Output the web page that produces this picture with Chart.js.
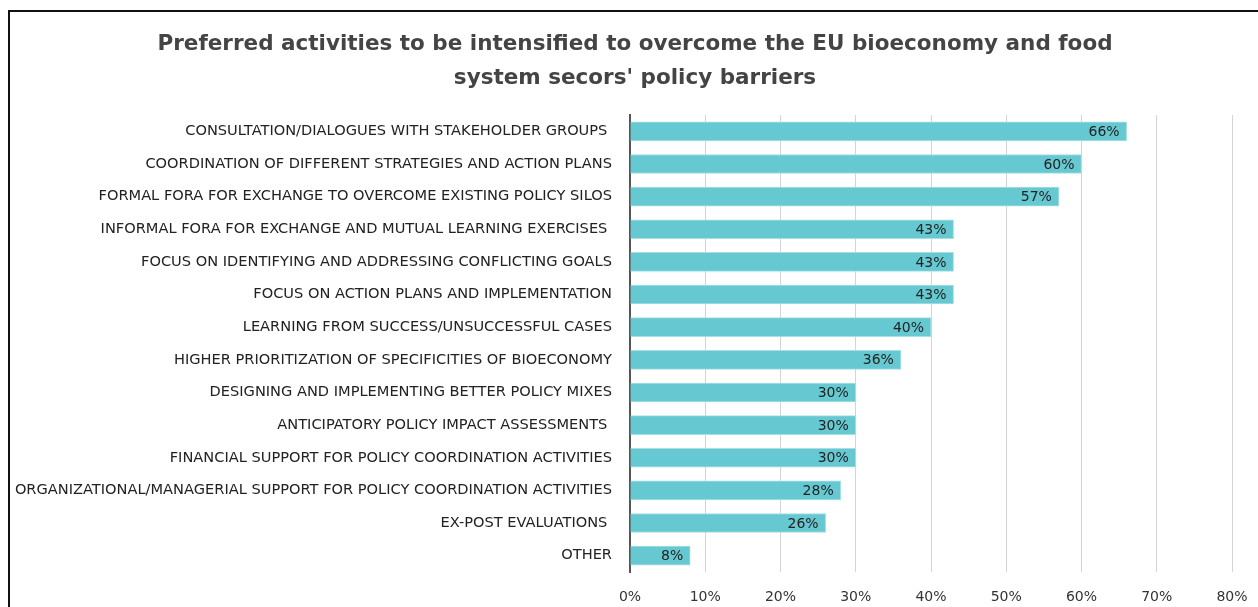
<!DOCTYPE html>
<html>
<head>
<meta charset="utf-8">
<script src="https://cdn.jsdelivr.net/npm/chart.js@4"></script>
<style>
  html, body { margin: 0; padding: 0; background: #fff; overflow: hidden; }
  #wrap { position: relative; width: 1258px; height: 607px; }
  #frame { position: absolute; left: 8px; top: 10px; width: 1300px; height: 700px;
           border-left: 2px solid #111; border-top: 2px solid #111; pointer-events: none; }
</style>
</head>
<body>
<div id="wrap">
  <canvas id="chart" width="1258" height="607"></canvas>
  <div id="frame"></div>
</div>
<script>
// values
const titleLines = [
    "Preferred activities to be intensified to overcome the EU bioeconomy and food",
    "system secors' policy barriers"
];
const categories = [
    "CONSULTATION/DIALOGUES WITH STAKEHOLDER GROUPS ",
    "COORDINATION OF DIFFERENT STRATEGIES AND ACTION PLANS",
    "FORMAL FORA FOR EXCHANGE TO OVERCOME EXISTING POLICY SILOS",
    "INFORMAL FORA FOR EXCHANGE AND MUTUAL LEARNING EXERCISES ",
    "FOCUS ON IDENTIFYING AND ADDRESSING CONFLICTING GOALS",
    "FOCUS ON ACTION PLANS AND IMPLEMENTATION",
    "LEARNING FROM SUCCESS/UNSUCCESSFUL CASES",
    "HIGHER PRIORITIZATION OF SPECIFICITIES OF BIOECONOMY",
    "DESIGNING AND IMPLEMENTING BETTER POLICY MIXES",
    "ANTICIPATORY POLICY IMPACT ASSESSMENTS ",
    "FINANCIAL SUPPORT FOR POLICY COORDINATION ACTIVITIES",
    "ORGANIZATIONAL/MANAGERIAL SUPPORT FOR POLICY COORDINATION ACTIVITIES",
    "EX-POST EVALUATIONS ",
    "OTHER"
];
const shares = [66, 60, 57, 43, 43, 43, 40, 36, 30, 30, 30, 28, 26, 8];
const xTicks = [0, 10, 20, 30, 40, 50, 60, 70, 80];

const FONT = "'DejaVu Sans', sans-serif";

// two-line title, centred on the framed area
const titleDraw = {
    id: 'titleDraw',
    afterDraw(chart) {
        const ctx = chart.ctx;
        ctx.save();
        ctx.font = 'bold 21.5px ' + FONT;
        ctx.fillStyle = '#444';
        ctx.textAlign = 'center';
        ctx.textBaseline = 'middle';
        titleLines.forEach((t, i) => ctx.fillText(t, 635, 44 + i * 34));
        ctx.restore();
    }
};

// value label just inside the end of each bar
const barLabels = {
    id: 'barLabels',
    afterDatasetsDraw(chart) {
        const ctx = chart.ctx;
        const meta = chart.getDatasetMeta(0);
        ctx.save();
        ctx.font = '14px ' + FONT;
        ctx.fillStyle = '#222';
        ctx.textAlign = 'right';
        ctx.textBaseline = 'middle';
        meta.data.forEach((bar, i) => {
            ctx.fillText(shares[i] + '%', bar.x - 7, bar.y + 1);
        });
        ctx.restore();
    }
};

new Chart(document.getElementById('chart'), {
    type: 'bar',
    data: {
        labels: categories,
        datasets: [{
            data: shares,
            backgroundColor: '#66c9d2',
            borderColor: '#a6e0e5',
            borderWidth: 1,
            borderSkipped: 'start',
            barThickness: 19
        }]
    },
    options: {
        indexAxis: 'y',
        responsive: false,
        animation: false,
        layout: { padding: { left: 0, right: 26, top: 115, bottom: 0 } },
        plugins: {
            legend: { display: false },
            tooltip: { enabled: false },
            title: { display: false }
        },
        scales: {
            x: {
                min: 0,
                max: 80,
                afterBuildTicks: s => { s.ticks = xTicks.map(v => ({ value: v })); },
                afterFit: s => { s.height = 35; s.paddingLeft = 0; s.paddingRight = 0; },
                grid: { color: '#d4d4d4', lineWidth: 1, drawTicks: false },
                border: { display: false },
                ticks: {
                    padding: 17,
                    color: '#333',
                    font: { family: FONT, size: 14 },
                    callback: v => v + '%'
                }
            },
            y: {
                afterFit: s => { s.width = 630; },
                grid: { display: false, drawTicks: false },
                border: { display: true, color: '#555', width: 2 },
                ticks: {
                    padding: 18,
                    color: '#222',
                    font: { family: FONT, size: 14.6 },
                    autoSkip: false
                }
            }
        }
    },
    plugins: [barLabels, titleDraw]
});
</script>
</body>
</html>
